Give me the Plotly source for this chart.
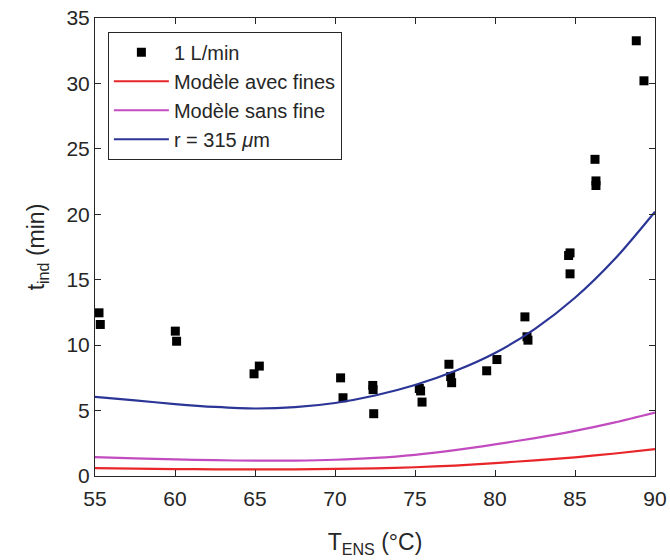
import plotly.graph_objects as go

# Experimental data (1 L/min)
t_ens = [55.25, 55.33, 60.02, 60.10, 64.94, 65.27, 70.35, 70.50, 72.36, 72.38, 72.42,
         75.27, 75.35, 75.44, 77.12, 77.23, 77.29, 79.48, 80.12, 81.87, 82.00, 82.06,
         84.60, 84.69, 84.69, 86.25, 86.31, 86.31, 88.83, 89.31]
t_ind = [12.47, 11.58, 11.07, 10.30, 7.81, 8.40, 7.50, 5.98, 6.92, 6.60, 4.76,
         6.69, 6.50, 5.65, 8.54, 7.60, 7.13, 8.04, 8.90, 12.16, 10.64, 10.38,
         16.85, 17.05, 15.45, 24.20, 22.55, 22.20, 33.26, 30.20]

# Model curves
t_model = [55, 57.5, 60, 62.5, 65, 67.5, 70, 72.5, 75, 77.5, 80, 82.5, 85, 87.5, 90]
avec_fines = [0.60, 0.56, 0.53, 0.51, 0.50, 0.51, 0.54, 0.59, 0.67, 0.80, 0.99, 1.19, 1.43, 1.72, 2.05]
sans_fine = [1.45, 1.35, 1.27, 1.21, 1.17, 1.18, 1.24, 1.38, 1.62, 1.98, 2.42, 2.90, 3.45, 4.10, 4.85]
r_315 = [6.05, 5.78, 5.50, 5.28, 5.16, 5.26, 5.58, 6.15, 6.95, 8.02, 9.40, 11.25, 13.62, 16.60, 20.20]

fig = go.Figure()
fig.add_trace(go.Scatter(x=t_ens, y=t_ind, mode="markers", name="1 L/min",
                         marker=dict(symbol="square", size=9, color="black")))
fig.add_trace(go.Scatter(x=t_model, y=avec_fines, mode="lines", name="Modèle avec fines",
                         line=dict(color="#e8262a", width=2.2, shape="spline", smoothing=0.8)))
fig.add_trace(go.Scatter(x=t_model, y=sans_fine, mode="lines", name="Modèle sans fine",
                         line=dict(color="#c24cbf", width=2.2, shape="spline", smoothing=0.8)))
fig.add_trace(go.Scatter(x=t_model, y=r_315, mode="lines", name="r = 315 <i>μ</i>m",
                         line=dict(color="#2b3596", width=2.2, shape="spline", smoothing=0.8)))

font_family = "Liberation Sans, Arial, sans-serif"
fig.update_layout(
    width=670, height=560,
    margin=dict(l=95, r=15, t=18, b=84),
    paper_bgcolor="white", plot_bgcolor="white",
    font=dict(family=font_family, size=21, color="#262626"),
    showlegend=True,
    legend=dict(x=0.023, y=0.97, xanchor="left", yanchor="top",
                bgcolor="white", bordercolor="#262626", borderwidth=1,
                font=dict(size=20, color="#262626"), tracegroupgap=0,
                itemwidth=55),
    xaxis=dict(range=[55, 90], tickvals=[55, 60, 65, 70, 75, 80, 85, 90],
               ticks="inside", ticklen=6, tickcolor="#262626",
               showline=True, linecolor="#262626", linewidth=1, mirror="ticks",
               showgrid=False, zeroline=False, automargin=False,
               ticklabeloverflow="allow", ticklabelstandoff=4,
               title=dict(text="T<sub>ENS</sub> (°C)", font=dict(size=23), standoff=24)),
    yaxis=dict(range=[0, 35], tickvals=[0, 5, 10, 15, 20, 25, 30, 35],
               ticks="inside", ticklen=6, tickcolor="#262626",
               showline=True, linecolor="#262626", linewidth=1, mirror="ticks",
               showgrid=False, zeroline=False, automargin=False,
               ticklabeloverflow="allow",
               title=dict(text="t<sub>ind</sub> (min)", font=dict(size=23))),
)

fig.write_html("out.html", config={"displayModeBar": False},
               post_script="document.body.style.margin='0';")
